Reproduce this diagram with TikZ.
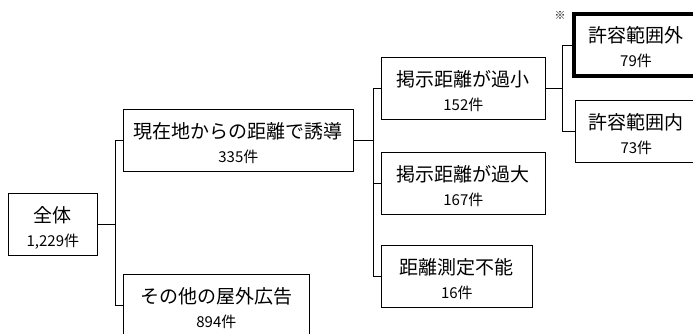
\documentclass[tikz,border=0pt]{standalone}
\usepackage{fontspec}
\setmainfont{Noto Sans CJK JP}
\usetikzlibrary{positioning}

\newcommand{\cnt}[1]{{\fontsize{15}{24}\selectfont #1}}

\begin{document}
\begin{tikzpicture}[x=1pt, y=-1pt,
    box/.style={draw, line width=0.8pt, anchor=north west, inner sep=0pt,
      text height=53pt, text depth=9pt, align=center,
      font=\fontsize{19}{24}\selectfont},
    link/.style={draw, line width=0.8pt}]
  \useasboundingbox (0,0) rectangle (693,334);
  \clip (0,0) rectangle (693,334);

  \node[box, minimum width=89pt]  (total)   at (8,193)   {全体\\\cnt{1,229件}};
  \node[box, minimum width=230pt] (guide)   at (123,109) {現在地からの距離で誘導\\\cnt{335件}};
  \node[box, minimum width=186pt] (other)   at (123,274) {その他の屋外広告\\\cnt{894件}};
  \node[box, minimum width=164pt] (short)   at (381,57)  {掲示距離が過小\\\cnt{152件}};
  \node[box, minimum width=164pt] (long)    at (381,152) {掲示距離が過大\\\cnt{167件}};
  \node[box, minimum width=151pt] (unknown) at (381,245) {距離測定不能\\\cnt{16件}};
  \node[box, line width=4pt, minimum width=124pt] (outside) at (572,12) {許容範囲外\\\cnt{79件}};
  \node[box, minimum width=122pt] (inside)  at (575,100) {許容範囲内\\\cnt{73件}};
  \node[inner sep=0pt, font=\fontsize{11}{11}\selectfont] (mark) at (560,15) {※};

  \draw[link] (total.east) -- ++(18,0) coordinate (j1) |- (guide.west);
  \draw[link] (j1) |- (other.west);
  \draw[link] (guide.east) -- ++(20,0) coordinate (j2) |- (short.west);
  \draw[link] (j2) |- (long.west);
  \draw[link] (j2) |- (unknown.west);
  \draw[link] (short.east) -- ++(17,0) coordinate (j3) |- (outside.west);
  \draw[link] (j3) |- (inside.west);
\end{tikzpicture}
\end{document}
